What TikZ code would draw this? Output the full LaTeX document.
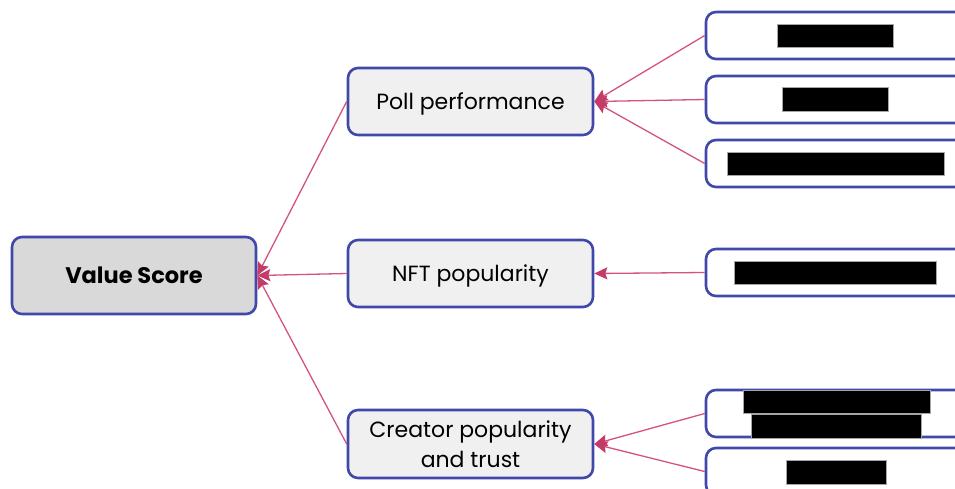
\documentclass[tikz,border=0pt]{standalone}
\usepackage{fontspec}
\setmainfont{Poppins}
\usetikzlibrary{arrows.meta}
\definecolor{boxblue}{RGB}{64,72,170}
\definecolor{linkpink}{RGB}{212,84,124}
\definecolor{headpink}{RGB}{196,58,104}
\definecolor{rootfill}{RGB}{217,217,217}
\definecolor{midfill}{RGB}{240,240,240}
\tikzset{
  card/.style={draw=boxblue, line width=2.6pt, rounded corners=10pt, inner sep=0pt},
  rootcard/.style={card, fill=rootfill, minimum width=244pt, minimum height=77pt,
    font=\fontsize{22.5}{27}\selectfont\bfseries},
  midcard/.style={card, fill=midfill, minimum width=245pt, minimum height=67pt,
    font=\fontsize{22}{29.5}\selectfont, align=center, text depth=0pt},
  leafcard/.style={card, fill=white, minimum width=274pt, minimum height=47pt},
  bar/.style={fill=black, draw=gray!70, line width=0.5pt},
  link/.style={draw=linkpink, line width=1.3pt,
    -{Stealth[length=13pt,width=12pt,inset=2pt,fill=headpink,color=headpink]}},
}
\begin{document}
\begin{tikzpicture}[x=1pt,y=-1pt]
  \useasboundingbox (0,0) rectangle (955,488);
  \clip (0,0) rectangle (955,488);
  \fill[white] (0,0) rectangle (955,488);

  % root and intermediate factors
  \node[rootcard] (value) at (134,275.5) {Value Score};
  \node[midcard] (poll) at (470.5,101.5) {Poll performance};
  \node[midcard] (nft) at (470.5,273.5) {NFT popularity};
  \node[midcard, minimum height=68pt] (creator) at (470.5,444) {Creator popularity\\and trust};

  % leaf inputs (labels withheld)
  \node[leafcard] (r1) at (843,35.5) {};
  \node[leafcard] (r2) at (843,99.5) {};
  \node[leafcard] (r3) at (843,163.5) {};
  \node[leafcard] (r4) at (843,272.5) {};
  \node[leafcard] (r5) at (843,413.5) {};
  \node[leafcard] (r6) at (843,471.5) {};

  % redaction bars
  \draw[bar] (777,24) rectangle (893,47);
  \draw[bar] (782,87) rectangle (888,111);
  \draw[bar] (727,152) rectangle (944,175);
  \draw[bar] (734,261) rectangle (936,284);
  \draw[bar] (743,390) rectangle (930,413);
  \draw[bar] (751,414) rectangle (921,438);
  \draw[bar] (786,460) rectangle (886,484);

  % connectors
  \draw[link] (poll.west) -- (value.east);
  \draw[link] (nft.west) -- (value.east);
  \draw[link] (creator.west) -- (value.east);
  \draw[link] (r1.west) -- (poll.east);
  \draw[link] (r2.west) -- (poll.east);
  \draw[link] (r3.west) -- (poll.east);
  \draw[link] (r4.west) -- (nft.east);
  \draw[link] (r5.west) -- (creator.east);
  \draw[link] (r6.west) -- (creator.east);
\end{tikzpicture}
\end{document}
